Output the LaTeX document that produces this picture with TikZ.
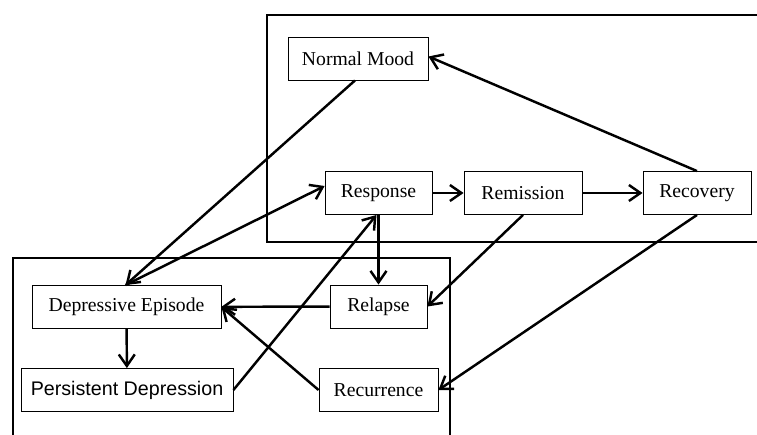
\documentclass[tikz,border=0pt]{standalone}
\usepackage{fontspec}
\setmainfont{Liberation Serif}
\newfontfamily\arialfont{Liberation Sans}
\usepackage{tikz}
\usetikzlibrary{arrows.meta}
\tikzstyle{box} = [rectangle, minimum height=0.86cm, inner sep=0pt, text centered, draw=black, line width=0.5pt, font=\fontsize{11.2}{13}\selectfont]
\tikzstyle{arrow} = [line width=1.4pt, -{Straight Barb[length=2.3mm, width=3.2mm]}]
\tikzstyle{frame} = [line width=0.7pt]

\begin{document}
\begin{tikzpicture}[x=0.02cm, y=-0.02cm]
        \useasboundingbox (0,0) rectangle (757,435);
        % the two groups
        \draw [frame] (757,15) -- (267,15) -- (267,242) -- (757,242);
        \draw [frame] (13,435) -- (13,258) -- (450,258) -- (450,435);
        \node (mood) [box, minimum width=2.8cm] at (358,58.5) {Normal Mood};
        \node (response) [box, minimum width=2.14cm] at (378.5,193) {Response};
        \node (remission) [box, minimum width=2.36cm] at (523,193) {Remission};
        \node (recovery) [box, minimum width=2.16cm] at (697,193) {Recovery};
        \node (episode) [box, minimum width=3.78cm] at (126.5,307) {Depressive Episode};
        \node (persistent) [box, minimum width=4.24cm, font=\arialfont\fontsize{11.2}{13}\selectfont] at (127,390) {Persistent Depression};
        \node (relapse) [box, minimum width=1.94cm] at (378.5,306.5) {Relapse};
        \node (recurrence) [box, minimum width=2.38cm] at (378.5,390) {Recurrence};
        \draw [arrow] (mood.south) ++(-3,0) -- ([xshift=-0.02cm]episode.north);
        \draw [arrow] ([xshift=-0.02cm]episode.north) -- ([yshift=0.14cm]response.west);
        \draw [arrow] (response) -- (remission);
        \draw [arrow] (remission) -- (recovery);
        \draw [arrow] (recovery.north) -- ([yshift=0.04cm]mood.east);
        \draw [arrow] (persistent.east) -- ([xshift=-0.04cm]response.south);
        \draw [arrow] (response.south) -- (relapse.north);
        \draw [arrow] (remission.south) -- (relapse.east);
        \draw [arrow] (recovery.south) -- (recurrence.east);
        \draw [arrow] (relapse) -- (episode);
        \draw [arrow] (recurrence.west) -- (episode.east);
        \draw [arrow] (episode) -- (persistent);
\end{tikzpicture}
\end{document}
